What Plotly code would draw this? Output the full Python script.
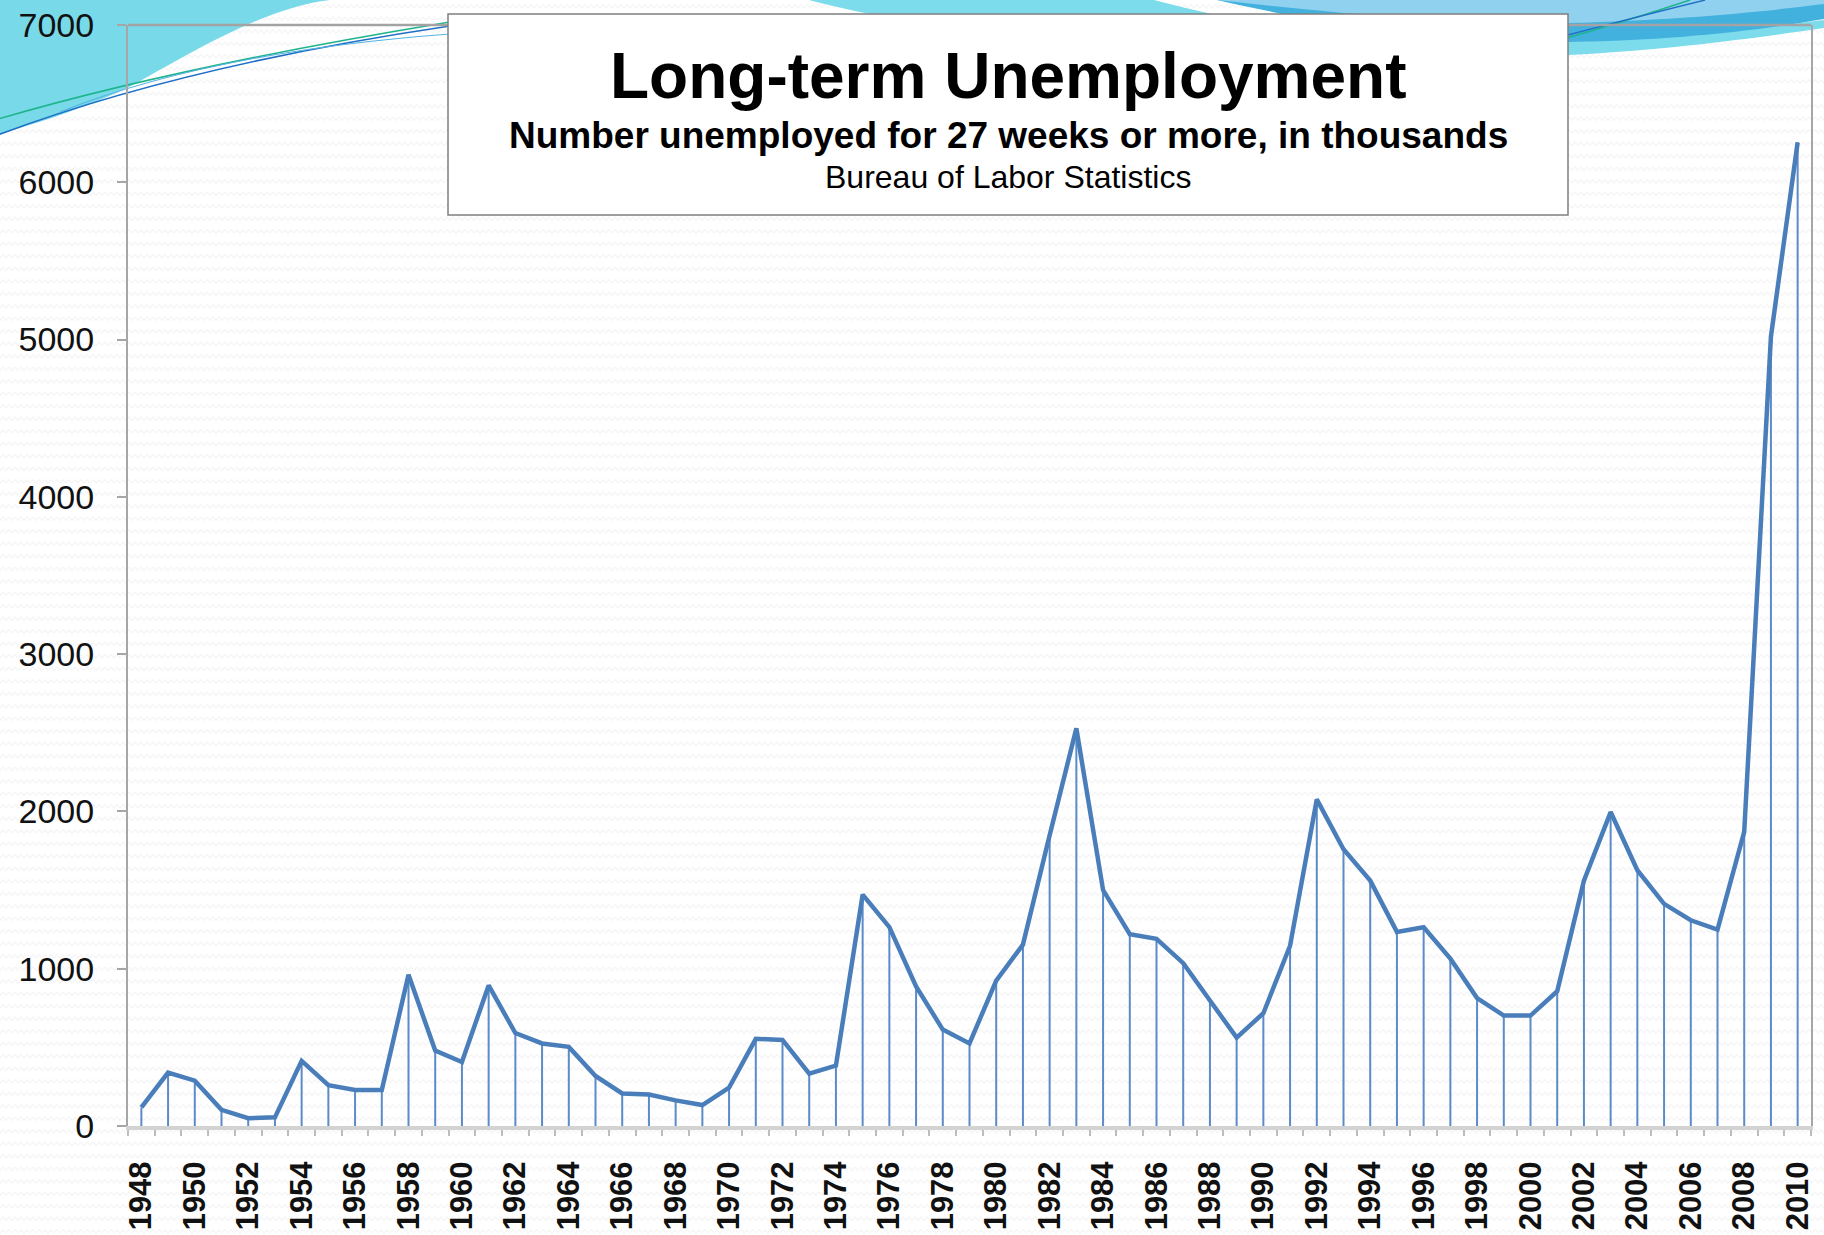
import base64
import plotly.graph_objects as go

# long-term unemployed (27 weeks or more), thousands
years = list(range(1948, 2011))
unemployed = [
    118, 340, 288, 103, 50, 55, 414, 259, 229, 229,
    961, 480, 407, 894, 591, 525, 503, 318, 207, 200,
    163, 133, 244, 554, 547, 333, 384, 1471, 1264, 887,
    613, 525, 924, 1153, 1848, 2528, 1500, 1220, 1190, 1035,
    798, 562, 717, 1146, 2077, 1759, 1560, 1234, 1264, 1064,
    813, 702, 702, 857, 1560, 1996, 1626, 1412, 1308, 1249,
    1870, 5019, 6254,
]
label_years = years[::2]
y_ticks = [0, 1000, 2000, 3000, 4000, 5000, 6000, 7000]

title = "Long-term Unemployment"
subtitle = "Number unemployed for 27 weeks or more, in thousands"
source = "Bureau of Labor Statistics"

W, H = 1824, 1235
L, R, T, B = 128, 1811, 25, 1126
FONT = "Liberation Sans, Arial, sans-serif"
BLUE = "#4a7ebb"


def px(x):
    return (x - L) / (R - L)


def py(y):
    return (B - y) / (B - T)


def path(*segs):
    # segs: ("M", (x, y)), ("C", (x1, y1), (x2, y2), (x, y)), ... in pixels
    out = []
    for cmd, *pts in segs:
        out.append(cmd + " " + " ".join(f"{px(x):.5f},{py(y):.5f}" for x, y in pts))
    return " ".join(out)


fig = go.Figure()

# drop lines from each point to the axis
fig.add_trace(go.Scatter(
    x=years, y=unemployed, mode="markers",
    marker=dict(size=1, color="rgba(0,0,0,0)"),
    error_y=dict(type="data", symmetric=False, array=[0] * len(years),
                 arrayminus=unemployed, width=0, thickness=2, color="#5b8bc8"),
    hoverinfo="skip", showlegend=False,
))
fig.add_trace(go.Scatter(
    x=years, y=unemployed, mode="lines",
    line=dict(color=BLUE, width=4.5),
    showlegend=False,
))

# faint zigzag paper texture
svg = (
    f'<svg xmlns="http://www.w3.org/2000/svg" width="{W}" height="{H}">'
    '<defs><pattern id="z" width="6" height="12.5" patternUnits="userSpaceOnUse">'
    '<polyline points="0,8 3,4.5 6,8" fill="none" stroke="#f2f2f2" stroke-width="1"/>'
    '</pattern></defs>'
    '<rect width="100%" height="100%" fill="#ffffff"/>'
    '<rect width="100%" height="100%" fill="url(#z)"/></svg>'
)
bg_src = "data:image/svg+xml;base64," + base64.b64encode(svg.encode()).decode()


def deco_fill(p, color):
    return dict(type="path", layer="below", xref="paper", yref="paper",
                path=p, fillcolor=color, line=dict(width=0))


def deco_line(p, color, width):
    return dict(type="path", layer="below", xref="paper", yref="paper",
                path=p, line=dict(color=color, width=width))


shapes = [
    # top-left swoosh
    deco_fill(path(("M", (0, 0)), ("L", (330, 0)),
                   ("C", (260, 8), (180, 60), (127, 88)),
                   ("C", (80, 110), (40, 122), (0, 134)), ("Z",)), "#78d9e8"),
    deco_line(path(("M", (-5, 120)), ("Q", (170, 68), (450, 22))), "#1fb48c", 1.6),
    deco_line(path(("M", (-5, 136)), ("Q", (180, 66), (450, 26))), "#1f6fc6", 1.6),
    deco_line(path(("M", (60, 112)), ("Q", (210, 52), (450, 34))), "#55b2e2", 1.2),
    # top-right swoosh
    deco_fill(path(("M", (809, 0)), ("L", (1154, 0)),
                   ("C", (1300, 40), (1450, 45), (1568, 42)),
                   ("C", (1680, 38), (1760, 28), (1824, 20)),
                   ("L", (1824, 28)),
                   ("C", (1760, 37), (1680, 49), (1568, 55)),
                   ("C", (1300, 68), (1000, 50), (809, 0)), ("Z",)), "#7cdcec"),
    deco_fill(path(("M", (1217, 0)), ("C", (1350, 30), (1450, 43), (1568, 42)),
                   ("C", (1680, 40), (1760, 30), (1824, 19)),
                   ("L", (1824, 0)), ("Z",)), "#42b1dd"),
    deco_fill(path(("M", (1217, 0)), ("C", (1350, 15), (1460, 24), (1568, 23)),
                   ("C", (1680, 20), (1760, 12), (1824, 4)),
                   ("L", (1824, 0)), ("Z",)), "#8fd1ee"),
    deco_line(path(("M", (1560, 40)), ("Q", (1630, 20), (1690, 0))), "#1fb48c", 1.5),
    deco_line(path(("M", (1560, 37)), ("Q", (1640, 16), (1705, 0))), "#1f6fc6", 1.3),
    # top border of plot area
    dict(type="line", layer="above", xref="paper", yref="paper",
         x0=0, x1=1, y0=1, y1=1, line=dict(color="#a3a3a3", width=2.5)),
    # title box
    dict(type="rect", layer="above", xref="paper", yref="paper",
         x0=px(448), x1=px(1568), y0=py(215), y1=py(14),
         fillcolor="#ffffff", line=dict(color="#7f7f7f", width=1.5)),
]

cx = px(1008)
annotations = [
    dict(text=f"<b>{title}</b>", x=cx, y=py(76), xref="paper", yref="paper",
         showarrow=False, xanchor="center", yanchor="middle",
         font=dict(family=FONT, size=64, color="#000000")),
    dict(text=f"<b>{subtitle}</b>", x=cx, y=py(135), xref="paper", yref="paper",
         showarrow=False, xanchor="center", yanchor="middle",
         font=dict(family=FONT, size=37, color="#000000")),
    dict(text=source, x=cx, y=py(177), xref="paper", yref="paper",
         showarrow=False, xanchor="center", yanchor="middle",
         font=dict(family=FONT, size=32, color="#000000")),
]

fig.update_layout(
    width=W, height=H,
    margin=dict(l=L, r=W - R, t=T, b=H - B, pad=0),
    paper_bgcolor="#ffffff",
    plot_bgcolor="rgba(0,0,0,0)",
    font=dict(family=FONT, color="#111111"),
    images=[dict(source=bg_src, xref="paper", yref="paper",
                 x=px(0), y=py(0), sizex=W / (R - L), sizey=H / (B - T),
                 xanchor="left", yanchor="top", sizing="stretch", layer="below")],
    shapes=shapes,
    annotations=annotations,
    xaxis=dict(
        range=[years[0] - 0.5, years[-1] + 0.5], automargin=False,
        tickmode="array", tickvals=label_years,
        ticktext=[f"<b>{y}</b>" for y in label_years],
        tickangle=-90, ticks="", ticklabelstandoff=19,
        tickfont=dict(family=FONT, size=31, color="#111111"),
        minor=dict(tick0=years[0] - 0.5, dtick=1, ticks="outside",
                   ticklen=6, tickwidth=1.5, tickcolor="#bdbdbd", showgrid=False),
        showgrid=False, zeroline=False,
        showline=True, linecolor="#d3d3d3", linewidth=4,
    ),
    yaxis=dict(
        range=[0, 7000], tickmode="array", tickvals=y_ticks, automargin=False,
        ticks="outside", ticklen=9, tickwidth=1.5, tickcolor="#a6a6a6",
        ticklabelstandoff=16,
        tickfont=dict(family=FONT, size=34, color="#111111"),
        showgrid=False, zeroline=False,
        showline=True, linecolor="#a6a6a6", linewidth=2, mirror=True,
    ),
)

# drop the browser's default body margin so the figure fills the window
fig.write_html("out.html", config={"displayModeBar": False},
               post_script="document.body.style.margin = '0';")
